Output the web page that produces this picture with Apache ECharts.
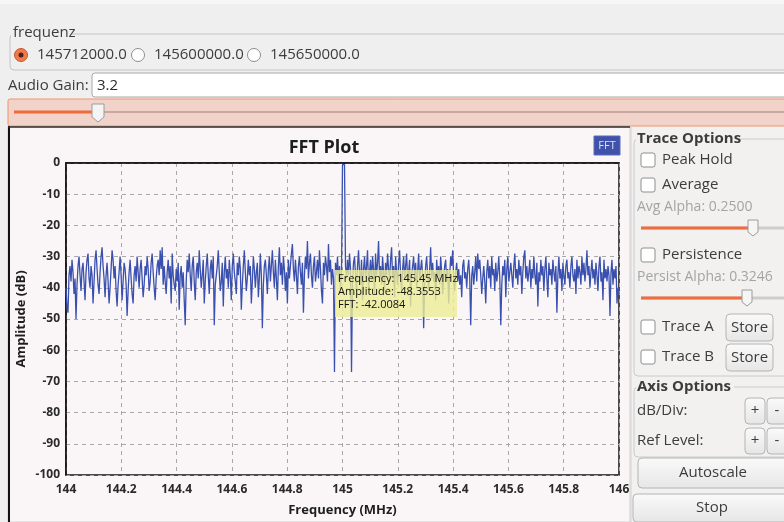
<!DOCTYPE html>
<html><head><meta charset="utf-8">
<script src="https://cdn.jsdelivr.net/npm/echarts@6/dist/echarts.min.js"></script>
<style>html,body{margin:0;padding:0;background:#efefef}#c{width:784px;height:522px}</style>
</head><body><div id="c"></div>
<script>
// ---- data ----
const freqStart = 144.0;
const freqStop = 146.0;
const binCount = 553;
const amplitudes = [
  -40,-46,-48,-36,-33,-38,-31,-35,-42,-37,-50,-39,-33,-30,-36,-41,-34,-32,-38,-44,
  -35,-31,-29,-37,-40,-33,-36,-45,-38,-31,-28,-34,-39,-42,-35,-30,-27,-33,-37,-43,
  -36,-32,-38,-45,-40,-34,-28,-31,-37,-33,-41,-46,-39,-35,-30,-36,-44,-38,-32,-34,
  -39,-49,-41,-35,-31,-37,-42,-45,-36,-33,-38,-30,-35,-40,-34,-31,-37,-43,-39,-33,
  -36,-30,-34,-41,-38,-32,-29,-35,-40,-44,-37,-33,-31,-36,-28,-34,-27,-39,-33,-38,
  -42,-35,-31,-37,-33,-45,-29,-36,-39,-41,-34,-38,-32,-47,-36,-33,-40,-35,-44,-52,
  -38,-31,-35,-29,-36,-41,-33,-30,-38,-44,-35,-32,-37,-28,-34,-40,-36,-31,-45,-38,
  -33,-29,-36,-42,-34,-31,-37,-30,-52,-39,-36,-33,-28,-35,-41,-38,-32,-46,-35,-30,
  -37,-34,-40,-31,-36,-44,-33,-29,-35,-38,-42,-32,-36,-30,-34,-47,-39,-33,-28,-35,
  -41,-37,-31,-36,-33,-45,-38,-30,-34,-40,-35,-32,-43,-37,-29,-36,-53,-39,-33,-31,
  -36,-42,-34,-30,-38,-33,-28,-35,-40,-31,-37,-44,-33,-27,-36,-32,-39,-30,-34,-41,
  -35,-45,-31,-37,-33,-29,-26,-34,-38,-31,-36,-42,-33,-30,-35,-39,-32,-48,-36,-30,
  -34,-25,-37,-32,-29,-36,-40,-33,-30,-38,-35,-31,-37,-28,-34,-41,-45,-32,-36,-30,
  -33,-38,-26,-35,-31,-39,-34,-37,-67,-32,-36,-30,-38,-33,-40,-35,-0.5,-0.5,-0.5,-33,
  -37,-31,-36,-29,-34,-67,-38,-32,-30,-36,-41,-33,-28,-35,-39,-31,-44,-34,-30,-37,
  -33,-28,-40,-35,-31,-38,-30,-34,-42,-29,-36,-32,-25,-37,-33,-39,-30,-35,-41,-32,
  -36,-29,-34,-38,-31,-27,-37,-33,-43,-30,-35,-39,-32,-28,-36,-41,-34,-30,-37,-33,
  -29,-38,-35,-31,-46,-36,-33,-30,-37,-32,-40,-35,-29,-38,-34,-31,-36,-53,-39,-33,
  -30,-36,-41,-34,-27,-37,-32,-38,-35,-44,-31,-36,-33,-39,-30,-35,-42,-37,-33,-31,
  -38,-34,-45,-36,-30,-33,-28,-37,-41,-35,-32,-38,-34,-39,-36,-43,-33,-31,-37,-35,
  -40,-34,-31,-37,-52,-36,-33,-39,-35,-30,-38,-29,-34,-31,-36,-42,-37,-33,-38,-45,
  -35,-31,-37,-33,-40,-30,-36,-34,-41,-32,-38,-35,-30,-37,-52,-39,-33,-36,-31,-43,
  -34,-30,-38,-35,-32,-36,-40,-33,-29,-37,-34,-39,-31,-36,-33,-42,-35,-30,-28,-37,
  -33,-38,-35,-31,-40,-34,-37,-30,-36,-39,-32,-46,-35,-38,-31,-36,-33,-41,-34,-30,
  -37,-43,-32,-36,-34,-39,-31,-35,-38,-33,-48,-36,-30,-37,-34,-41,-32,-36,-39,-33,
  -31,-37,-35,-40,-33,-30,-36,-38,-34,-42,-31,-37,-33,-35,-39,-30,-36,-32,-38,-34,
  -28,-36,-33,-40,-35,-31,-37,-34,-39,-32,-36,-41,-33,-30,-38,-35,-44,-31,-37,-34,
  -38,-33,-36,-49,-35,-31,-39,-34,-37,-33,-45,-40,-42
];
const yMin = -100, yMax = 0, yStep = 10;
const xStepLabel = 0.2;
const radioOptions = ['145712000.0', '145600000.0', '145650000.0'];
const markerLines = ['Frequency: 145.45 MHz', 'Amplitude: -48.3553', 'FFT: -42.0084'];

// ---- build ----
const freqStep = (freqStop - freqStart) / (binCount - 1);
const seriesData = amplitudes.map((v, i) => [freqStart + i * freqStep, v]);

const UI = '"Open Sans", "DejaVu Sans", sans-serif';
const G = [];
function rect(x, y, w, h, fill, stroke, r, z, lw) {
  G.push({ type: 'rect', z: z == null ? -10 : z, silent: true,
    shape: { x, y, width: w, height: h, r: r || 0 },
    style: { fill: fill || 'none', stroke: stroke || 'none', lineWidth: lw || 1 } });
}
function line(x1, y1, x2, y2, stroke, w, z) {
  G.push({ type: 'line', z: z == null ? -9 : z, silent: true,
    shape: { x1, y1, x2, y2 }, style: { stroke, lineWidth: w || 1 } });
}
function txt(x, y, t, font, fill, align, z) {
  G.push({ type: 'text', z: z == null ? -5 : z, silent: true, x, y,
    style: { text: t, font, fill: fill || '#3c3c3c',
      align: align || 'left', verticalAlign: 'middle',
      textAlign: align || 'left', textVerticalAlign: 'middle' } });
}
function btn(x, y, w, h, label) {
  G.push({ type: 'rect', z: -8, silent: true, shape: { x, y, width: w, height: h, r: 4 },
    style: { fill: new echarts.graphic.LinearGradient(0, 0, 0, 1, [
      { offset: 0, color: '#fafafa' }, { offset: 1, color: '#e6e6e6' }]),
      stroke: '#b4b4b4', lineWidth: 1 } });
  txt(x + w / 2, y + h / 2, label, '15px ' + UI, '#3c3c3c', 'center');
}
function checkbox(x, y, label) {
  rect(x, y - 7, 14, 14, '#ffffff', '#8e8e8e', 2, -8);
  txt(x + 21, y, label, '15px ' + UI, '#3c3c3c');
}
function slider(x1, x2, hx, y) {
  line(x1, y, 786, y, '#cdcdcd', 3);
  line(x1, y, hx, y, '#ef6d3d', 3, -8);
  G.push({ type: 'polygon', z: -7, silent: true,
    shape: { points: [[hx - 5, y - 8], [hx + 5, y - 8], [hx + 5, y + 4], [hx, y + 8], [hx - 5, y + 4]] },
    style: { fill: '#f5f5f5', stroke: '#9c9c9c', lineWidth: 1 } });
}

// top control area
rect(0, 0, 784, 126, '#efefef', null, 0, -12);
rect(0, 0, 784, 4, '#f6f6f6', null, 0, -11);
rect(10, 34, 790, 36, 'none', '#c4c4c4', 4);
rect(11, 27, 60, 12, '#efefef', null, 0, -8);
txt(13, 33, 'frequenz', '15px ' + UI, '#3c3c3c');
const radioX = [21, 138, 254];
radioOptions.forEach((lab, i) => {
  G.push({ type: 'circle', z: -8, silent: true, shape: { cx: radioX[i], cy: 55, r: 6.5 },
    style: { fill: i === 0 ? '#f07a4c' : '#ffffff', stroke: i === 0 ? '#c8562c' : '#8e8e8e', lineWidth: 1 } });
  if (i === 0) G.push({ type: 'circle', z: -7, silent: true, shape: { cx: radioX[i], cy: 55, r: 2.5 }, style: { fill: '#4a2418' } });
  txt(radioX[i] + 16, 55, lab, '15px ' + UI, '#3c3c3c');
});
txt(8, 86, 'Audio Gain:', '15px ' + UI, '#3c3c3c');
rect(92, 73, 700, 24, '#ffffff', '#a9a9a9', 3);
txt(97, 86, '3.2', '15px ' + UI, '#2c2c2c');
rect(8, 99, 790, 27, '#f1d3ca', '#f3926e', 2);
line(14, 112, 786, 112, '#c8a9a1', 2);
line(14, 112, 98, 112, '#ef6b3b', 3, -8);
G.push({ type: 'polygon', z: -7, silent: true,
  shape: { points: [[92, 104], [104, 104], [104, 117], [98, 122], [92, 117]] },
  style: { fill: '#f4f4f4', stroke: '#9c9c9c', lineWidth: 1 } });

// plot panel
rect(8, 126, 622, 396, '#faf6f8', '#cfcfcf', 0, -12);
line(9, 126, 9, 522, '#111111', 2);
line(8, 127, 630, 127, '#2a2a2a', 1.5);
G.push({ type: 'rect', z: -6, silent: true, shape: { x: 594, y: 136, width: 26, height: 19 },
  style: { fill: '#3f51a8', stroke: '#5a6bc0', lineWidth: 1 } });
txt(607, 146, 'FFT', '11px ' + UI, '#dde1f4', 'center', -5);

// marker box (over the trace)
G.push({ type: 'rect', z: 50, silent: true, shape: { x: 335, y: 270, width: 122, height: 47 },
  style: { fill: 'rgba(238,238,150,0.8)' } });
markerLines.forEach((t, i) => txt(338, 279 + i * 13, t, '11px ' + UI, '#111111', 'left', 51));

// right panel
rect(632, 126, 152, 396, '#f2f1f0', null, 0, -12);
line(631, 126, 631, 522, '#d6d6d6', 1);
rect(634, 139, 160, 237, 'none', '#cacaca', 4);
rect(636, 131, 104, 15, '#f2f1f0', null, 0, -8);
txt(637, 139, 'Trace Options', 'bold 15px ' + UI, '#3c3c3c');
checkbox(641, 160, 'Peak Hold');
checkbox(641, 185, 'Average');
txt(637, 207, 'Avg Alpha: 0.2500', '14px ' + UI, '#a4a4a4');
slider(641, 783, 753, 228);
checkbox(641, 255, 'Persistence');
txt(637, 277, 'Persist Alpha: 0.3246', '14px ' + UI, '#a4a4a4');
slider(641, 783, 747, 298);
checkbox(641, 327, 'Trace A');
btn(726, 314, 47, 27, 'Store');
checkbox(641, 357, 'Trace B');
btn(726, 344, 47, 27, 'Store');
rect(634, 387, 160, 70, 'none', '#cacaca', 4);
rect(636, 379, 98, 15, '#f2f1f0', null, 0, -8);
txt(637, 387, 'Axis Options', 'bold 15px ' + UI, '#3c3c3c');
txt(637, 411, 'dB/Div:', '15px ' + UI, '#3c3c3c');
btn(745, 398, 20, 26, '+');
btn(767, 398, 20, 26, '-');
txt(637, 441, 'Ref Level:', '15px ' + UI, '#3c3c3c');
btn(745, 428, 20, 26, '+');
btn(767, 428, 20, 26, '-');
btn(638, 458, 150, 30, 'Autoscale');
btn(633, 494, 158, 28, 'Stop');

const chart = echarts.init(document.getElementById('c'), null, { renderer: 'canvas' });
chart.setOption({
  animation: false,
  backgroundColor: '#efefef',
  title: {
    text: 'FFT Plot', left: 319, top: 134, textAlign: 'center',
    textStyle: { fontFamily: UI, fontWeight: 'bold', fontSize: 18, color: '#1e1e1e' }
  },
  grid: {
    left: 66, right: 165, top: 163, bottom: 45, show: true,
    borderColor: '#111111', borderWidth: 1.5, backgroundColor: 'transparent'
  },
  xAxis: {
    type: 'value', min: freqStart, max: freqStop, interval: xStepLabel,
    name: 'Frequency (MHz)', nameLocation: 'middle', nameGap: 29, nameMoveOverlap: false,
    nameTextStyle: { fontFamily: UI, fontWeight: 'bold', fontSize: 13, color: '#1e1e1e' },
    axisLine: { show: true, lineStyle: { color: '#111111', width: 1.5 } },
    axisTick: { show: false },
    axisLabel: { margin: 9, fontFamily: UI, fontWeight: 'bold', fontSize: 12, color: '#2a2a2a',
      formatter: v => String(parseFloat(v.toFixed(1))) },
    splitLine: { show: true, lineStyle: { color: '#a8a8a8', type: [4, 4], width: 1 } }
  },
  yAxis: {
    type: 'value', min: yMin, max: yMax, interval: yStep,
    name: 'Amplitude (dB)', nameLocation: 'middle', nameGap: 38, nameRotate: 90, nameMoveOverlap: false,
    nameTextStyle: { fontFamily: UI, fontWeight: 'bold', fontSize: 13, color: '#1e1e1e' },
    axisLine: { show: true, lineStyle: { color: '#111111', width: 1.5 } },
    axisTick: { show: false },
    axisLabel: { margin: 6, fontFamily: UI, fontWeight: 'bold', fontSize: 12, color: '#2a2a2a' },
    splitLine: { show: true, lineStyle: { color: '#a8a8a8', type: [4, 4], width: 1 } }
  },
  series: [{
    name: 'FFT', type: 'line', data: seriesData, showSymbol: false, symbol: 'none',
    lineStyle: { color: '#3a50ae', width: 1.3 }, z: 5, clip: true
  }],
  graphic: { elements: G }
});
</script></body></html>
